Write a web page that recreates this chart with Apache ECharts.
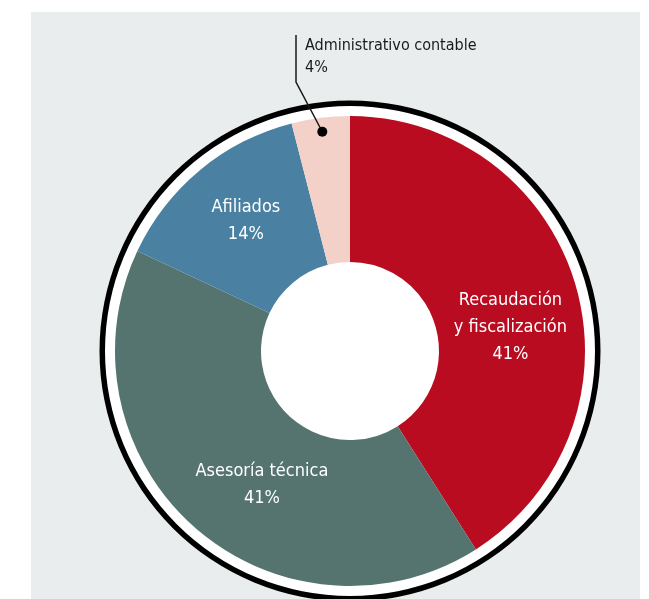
<!DOCTYPE html>
<html>
<head>
<meta charset="utf-8">
<script src="https://cdn.jsdelivr.net/npm/echarts@6/dist/echarts.min.js"></script>
<style>
  html, body { margin: 0; padding: 0; background: #ffffff; }
  #main { width: 649px; height: 599px; }
</style>
</head>
<body>
<div id="main"></div>
<script>
// datos del gráfico
var categorias = ['Recaudación\ny fiscalización', 'Asesoría técnica', 'Afiliados', 'Administrativo contable'];
var valores = [41, 41, 14, 4];
var colores = ['#b90c20', '#557470', '#4a80a2', '#f3d1c9'];

var cx = 350, cy = 351;
var rHole = 89, rPie = 235;
var fuente = '"Liberation Sans Narrow", "DejaVu Sans Condensed", sans-serif';

// desplazamiento de las etiquetas interiores
var ajustes = [[2, 22], [21, 10], [1, -3]];

var total = valores.reduce(function (a, b) { return a + b; }, 0);
// punto medio del último sector, para el punto negro
var acum = total - valores[3] / 2;
var ang = acum / total * 2 * Math.PI;
var dotX = cx + 221 * Math.sin(ang);
var dotY = cy - 221 * Math.cos(ang);

var chart = echarts.init(document.getElementById('main'));

var datos = valores.map(function (v, i) {
    var item = { value: v, name: categorias[i], itemStyle: { color: colores[i] } };
    if (i === 3) {
        item.label = {
            position: 'outside',
            color: '#1a1a1a',
            fontFamily: fuente,
            fontSize: 16,
            lineHeight: 22,
            align: 'left'
        };
        item.labelLine = { show: false };
    }
    return item;
});

var option = {
    animation: false,
    graphic: [
        {
            type: 'rect', z: -10,
            shape: { x: 31, y: 12, width: 609, height: 600 },
            style: { fill: '#e9eded' }
        },
        {
            type: 'polyline', z: 100,
            shape: { points: [[dotX, dotY], [296, 82], [296, 35]] },
            style: { stroke: '#1a1a1a', lineWidth: 1.5, fill: null }
        },
        {
            type: 'circle', z: 101,
            shape: { cx: dotX, cy: dotY, r: 5 },
            style: { fill: '#000000' }
        }
    ],
    series: [
        {
            type: 'pie', silent: true, z: 1,
            center: [cx, cy], radius: [0, 245],
            label: { show: false }, labelLine: { show: false },
            data: [{ value: 1, itemStyle: { color: '#ffffff' } }]
        },
        {
            type: 'pie', silent: true, z: 1,
            center: [cx, cy], radius: [245, 250.5],
            label: { show: false }, labelLine: { show: false },
            data: [{ value: 1, itemStyle: { color: '#000000' } }]
        },
        {
            type: 'pie', silent: true, z: 2,
            center: [cx, cy], radius: [rHole, rPie],
            startAngle: 90, clockwise: true,
            itemStyle: { borderWidth: 0 },
            label: {
                show: true,
                position: 'inside',
                color: '#ffffff',
                fontFamily: fuente,
                fontSize: 18,
                lineHeight: 27,
                formatter: function (p) { return p.name + '\n' + p.value + '%'; }
            },
            labelLayout: function (p) {
                if (p.dataIndex === 3) {
                    return { x: 305, y: 35, align: 'left', verticalAlign: 'top' };
                }
                var a = ajustes[p.dataIndex];
                return { dx: a[0], dy: a[1] };
            },
            data: datos
        }
    ]
};
chart.setOption(option);
</script>
</body>
</html>
